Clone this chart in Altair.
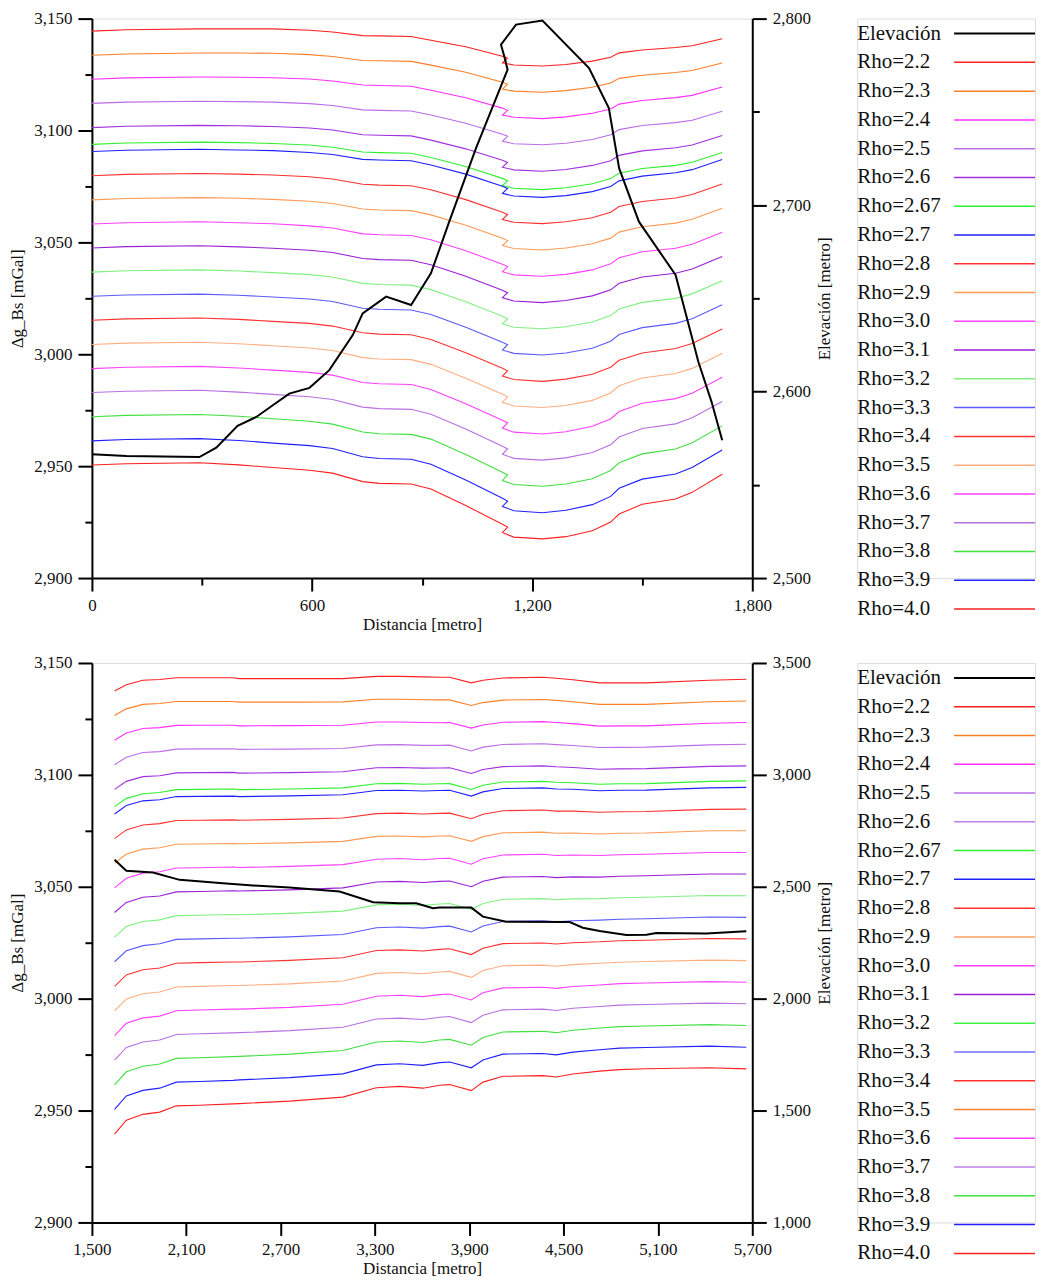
import altair as alt
import pandas as pd

FONT = "Liberation Serif"

NAMES = ["Rho=2.2", "Rho=2.3", "Rho=2.4", "Rho=2.5", "Rho=2.6", "Rho=2.67", "Rho=2.7",
         "Rho=2.8", "Rho=2.9", "Rho=3.0", "Rho=3.1", "Rho=3.2", "Rho=3.3", "Rho=3.4",
         "Rho=3.5", "Rho=3.6", "Rho=3.7", "Rho=3.8", "Rho=3.9", "Rho=4.0"]

TOP_COLORS = ["#ff2020", "#ff7f27", "#ff30ff", "#bb6ee6", "#a030e0", "#30f030", "#2020ff",
              "#ff3030", "#ff9a55", "#ff40ff", "#9a1ed6", "#80f080", "#5a5aff", "#ff3030",
              "#ffae80", "#ff40ff", "#b870e0", "#40e040", "#2020ff", "#ff2020"]
BOT_COLORS = ["#ff2020", "#ff7f27", "#ff30ff", "#bb6ee6", "#c080e6", "#30f030", "#2020ff",
              "#ff3030", "#ffa060", "#ff40ff", "#9a1ed6", "#40f040", "#7070ff", "#ff3030",
              "#ff8030", "#ff40ff", "#c080e6", "#40e040", "#2020ff", "#ff2020"]

# ---------------- top profile ----------------
TOP_X = [0, 93, 293, 400, 493, 593, 656, 738, 783, 870, 924, 1019, 1119, 1133, 1119, 1150,
         1228, 1292, 1364, 1414, 1437, 1500, 1591, 1636, 1718]

top_22 = [3144.4, 3145.0, 3145.4, 3145.4, 3145.4, 3144.8, 3144.0, 3142.4, 3142.3, 3142.0, 3140.3, 3137.4, 3133.2, 3132.3, 3130.2, 3129.3, 3128.8, 3129.5, 3131.0, 3132.7, 3134.7, 3136.0, 3137.1, 3137.9, 3141.0]
top_23 = [3133.6, 3134.2, 3134.6, 3134.6, 3134.5, 3133.9, 3133.1, 3131.3, 3131.2, 3130.9, 3129.2, 3126.0, 3121.6, 3120.7, 3118.5, 3117.6, 3117.1, 3117.8, 3119.3, 3121.2, 3123.3, 3124.7, 3125.9, 3126.8, 3130.2]
top_24 = [3122.9, 3123.5, 3123.9, 3123.8, 3123.6, 3123.0, 3122.1, 3120.3, 3120.1, 3119.8, 3118.0, 3114.6, 3110.0, 3109.0, 3106.9, 3105.9, 3105.3, 3106.1, 3107.7, 3109.6, 3111.8, 3113.4, 3114.7, 3115.7, 3119.4]
top_25 = [3112.1, 3112.7, 3113.1, 3112.9, 3112.7, 3112.0, 3111.2, 3109.2, 3109.0, 3108.7, 3106.9, 3103.2, 3098.3, 3097.4, 3095.2, 3094.1, 3093.6, 3094.3, 3096.0, 3098.1, 3100.4, 3102.2, 3103.5, 3104.6, 3108.6]
top_26 = [3101.3, 3101.9, 3102.3, 3102.1, 3101.8, 3101.1, 3100.2, 3098.1, 3097.9, 3097.6, 3095.7, 3091.8, 3086.7, 3085.7, 3083.6, 3082.4, 3081.8, 3082.6, 3084.4, 3086.5, 3088.9, 3090.9, 3092.3, 3093.5, 3097.8]
top_267 = [3093.8, 3094.4, 3094.8, 3094.6, 3094.2, 3093.5, 3092.5, 3090.4, 3090.1, 3089.8, 3087.9, 3083.9, 3078.6, 3077.6, 3075.4, 3074.2, 3073.6, 3074.4, 3076.2, 3078.5, 3080.9, 3083.0, 3084.4, 3085.8, 3090.2]
top_27 = [3090.6, 3091.2, 3091.6, 3091.3, 3091.0, 3090.2, 3089.3, 3087.1, 3086.8, 3086.5, 3084.6, 3080.5, 3075.1, 3074.1, 3071.9, 3070.7, 3070.1, 3070.9, 3072.7, 3075.0, 3077.5, 3079.6, 3081.1, 3082.5, 3087.0]
top_28 = [3079.8, 3080.4, 3080.8, 3080.5, 3080.1, 3079.3, 3078.3, 3076.0, 3075.6, 3075.3, 3073.5, 3069.1, 3063.5, 3062.5, 3060.2, 3059.0, 3058.4, 3059.2, 3061.0, 3063.5, 3066.0, 3068.3, 3069.8, 3071.4, 3076.1]
top_29 = [3069.0, 3069.6, 3070.0, 3069.7, 3069.2, 3068.4, 3067.4, 3064.9, 3064.5, 3064.2, 3062.3, 3057.7, 3051.9, 3050.8, 3048.6, 3047.3, 3046.6, 3047.5, 3049.4, 3051.9, 3054.6, 3057.0, 3058.6, 3060.3, 3065.3]
top_30 = [3058.2, 3058.8, 3059.2, 3058.8, 3058.3, 3057.4, 3056.4, 3053.8, 3053.4, 3053.1, 3051.2, 3046.3, 3040.2, 3039.2, 3036.9, 3035.5, 3034.9, 3035.7, 3037.7, 3040.4, 3043.1, 3045.8, 3047.4, 3049.2, 3054.5]
top_31 = [3047.5, 3048.1, 3048.5, 3048.0, 3047.4, 3046.5, 3045.5, 3042.8, 3042.3, 3042.0, 3040.0, 3034.9, 3028.6, 3027.5, 3025.3, 3023.8, 3023.1, 3024.0, 3026.1, 3028.8, 3031.7, 3034.5, 3036.2, 3038.1, 3043.7]
top_32 = [3036.7, 3037.3, 3037.7, 3037.2, 3036.5, 3035.6, 3034.5, 3031.7, 3031.2, 3030.9, 3028.9, 3023.5, 3017.0, 3015.9, 3013.6, 3012.1, 3011.4, 3012.3, 3014.4, 3017.3, 3020.2, 3023.2, 3025.0, 3027.0, 3032.9]
top_33 = [3025.9, 3026.5, 3026.9, 3026.4, 3025.6, 3024.7, 3023.6, 3020.6, 3020.1, 3019.8, 3017.8, 3012.1, 3005.4, 3004.3, 3001.9, 3000.4, 2999.7, 3000.6, 3002.7, 3005.8, 3008.8, 3011.9, 3013.8, 3015.9, 3022.1]
top_34 = [3015.2, 3015.8, 3016.2, 3015.6, 3014.7, 3013.8, 3012.6, 3009.6, 3009.0, 3008.7, 3006.6, 3000.7, 2993.8, 2992.6, 2990.3, 2988.7, 2987.9, 2988.9, 2991.1, 2994.2, 2997.3, 3000.6, 3002.6, 3004.8, 3011.3]
top_35 = [3004.4, 3005.0, 3005.4, 3004.7, 3003.8, 3002.8, 3001.7, 2998.5, 2997.9, 2997.6, 2995.5, 2989.3, 2982.1, 2981.0, 2978.6, 2976.9, 2976.2, 2977.1, 2979.4, 2982.7, 2985.9, 2989.4, 2991.4, 2993.7, 3000.5]
top_36 = [2993.6, 2994.2, 2994.6, 2993.9, 2992.9, 2991.9, 2990.7, 2987.4, 2986.8, 2986.5, 2984.3, 2977.9, 2970.5, 2969.3, 2967.0, 2965.2, 2964.4, 2965.4, 2967.8, 2971.1, 2974.4, 2978.1, 2980.2, 2982.6, 2989.7]
top_37 = [2982.9, 2983.5, 2983.9, 2983.1, 2982.1, 2981.0, 2979.8, 2976.4, 2975.7, 2975.4, 2973.2, 2966.6, 2958.9, 2957.7, 2955.3, 2953.5, 2952.7, 2953.7, 2956.1, 2959.6, 2963.0, 2966.8, 2968.9, 2971.6, 2978.9]
top_38 = [2972.1, 2972.7, 2973.1, 2972.3, 2971.2, 2970.1, 2968.8, 2965.3, 2964.5, 2964.2, 2962.1, 2955.2, 2947.3, 2946.1, 2943.6, 2941.8, 2941.0, 2942.0, 2944.4, 2948.1, 2951.5, 2955.5, 2957.7, 2960.5, 2968.0]
top_39 = [2961.3, 2961.9, 2962.3, 2961.5, 2960.3, 2959.2, 2957.9, 2954.2, 2953.4, 2953.1, 2950.9, 2943.8, 2935.7, 2934.4, 2932.0, 2930.1, 2929.2, 2930.3, 2932.8, 2936.5, 2940.1, 2944.2, 2946.5, 2949.4, 2957.2]
top_40 = [2950.5, 2951.1, 2951.5, 2950.6, 2949.4, 2948.2, 2946.9, 2943.1, 2942.3, 2942.0, 2939.8, 2932.4, 2924.0, 2922.8, 2920.3, 2918.3, 2917.5, 2918.5, 2921.1, 2925.0, 2928.6, 2933.0, 2935.3, 2938.3, 2946.4]

TOP_ELEV_X = [0, 94, 293, 339, 397, 448, 493, 538, 593, 647, 711, 738, 802, 870, 924, 974, 1047,
              1133, 1124, 1115, 1156, 1228, 1355, 1409, 1437, 1491, 1591, 1653, 1689, 1718]
TOP_ELEV = [2566.4, 2565.5, 2564.9, 2569.9, 2581.6, 2586.4, 2592.7, 2598.9, 2602.0, 2611.5,
            2630.3, 2641.9, 2650.9, 2646.4, 2663.4, 2691.1, 2730.5, 2772.6, 2779.8, 2786.0,
            2796.8, 2799.0, 2773.5, 2752.0, 2719.8, 2691.1, 2662.5, 2616.0, 2594.5, 2573.9]

# ---------------- bottom profile ----------------
BOT_X = [1644, 1719, 1824, 1931, 2037, 2185, 2397, 2439, 2757, 3096, 3309, 3457, 3605, 3711,
         3775, 3913, 3987, 4114, 4368, 4453, 4559, 4729, 4856, 5026, 5428, 5662]

bot_22 = [3137.5, 3140.3, 3142.3, 3142.6, 3143.4, 3143.4, 3143.4, 3143.0, 3143.0, 3143.0, 3144.0, 3144.0, 3143.8, 3143.6, 3143.6, 3141.1, 3142.3, 3143.3, 3143.6, 3143.2, 3142.5, 3141.1, 3141.1, 3141.1, 3142.3, 3142.7]
bot_23 = [3126.5, 3129.5, 3131.5, 3131.9, 3132.8, 3132.8, 3132.8, 3132.5, 3132.5, 3132.6, 3133.8, 3133.8, 3133.6, 3133.5, 3133.5, 3131.0, 3132.3, 3133.4, 3133.7, 3133.3, 3132.7, 3131.5, 3131.5, 3131.5, 3132.7, 3133.0]
bot_24 = [3115.5, 3118.7, 3120.7, 3121.1, 3122.1, 3122.2, 3122.2, 3121.9, 3122.0, 3122.2, 3123.6, 3123.6, 3123.4, 3123.3, 3123.4, 3120.9, 3122.3, 3123.5, 3123.8, 3123.4, 3122.9, 3121.8, 3121.9, 3121.9, 3123.1, 3123.4]
bot_25 = [3104.5, 3107.9, 3110.0, 3110.4, 3111.5, 3111.6, 3111.7, 3111.4, 3111.5, 3111.8, 3113.4, 3113.5, 3113.2, 3113.2, 3113.3, 3110.7, 3112.4, 3113.6, 3113.9, 3113.5, 3113.1, 3112.2, 3112.3, 3112.4, 3113.4, 3113.7]
bot_26 = [3093.5, 3097.1, 3099.2, 3099.6, 3100.9, 3101.0, 3101.1, 3100.8, 3101.0, 3101.4, 3103.2, 3103.3, 3103.0, 3103.1, 3103.2, 3100.6, 3102.4, 3103.7, 3104.0, 3103.6, 3103.3, 3102.5, 3102.7, 3102.8, 3103.8, 3104.0]
bot_267 = [3085.8, 3089.5, 3091.6, 3092.1, 3093.4, 3093.5, 3093.7, 3093.4, 3093.7, 3094.2, 3096.0, 3096.2, 3095.8, 3096.0, 3096.1, 3093.5, 3095.4, 3096.8, 3097.1, 3096.7, 3096.5, 3095.8, 3096.0, 3096.1, 3097.1, 3097.3]
bot_27 = [3082.5, 3086.3, 3088.4, 3088.9, 3090.3, 3090.4, 3090.5, 3090.3, 3090.6, 3091.1, 3093.0, 3093.1, 3092.8, 3093.0, 3093.1, 3090.5, 3092.4, 3093.9, 3094.2, 3093.7, 3093.6, 3092.9, 3093.1, 3093.2, 3094.2, 3094.4]
bot_28 = [3071.5, 3075.4, 3077.6, 3078.2, 3079.6, 3079.7, 3079.9, 3079.7, 3080.1, 3080.7, 3082.7, 3082.9, 3082.5, 3082.8, 3082.9, 3080.4, 3082.4, 3084.0, 3084.3, 3083.8, 3083.8, 3083.3, 3083.5, 3083.6, 3084.6, 3084.7]
bot_29 = [3060.5, 3064.6, 3066.8, 3067.4, 3069.0, 3069.1, 3069.3, 3069.2, 3069.6, 3070.3, 3072.5, 3072.7, 3072.3, 3072.7, 3072.8, 3070.3, 3072.4, 3074.1, 3074.4, 3073.9, 3074.0, 3073.6, 3073.9, 3074.0, 3075.0, 3075.0]
bot_30 = [3049.5, 3053.8, 3056.1, 3056.7, 3058.4, 3058.5, 3058.8, 3058.6, 3059.1, 3059.9, 3062.3, 3062.6, 3062.1, 3062.6, 3062.7, 3060.1, 3062.5, 3064.2, 3064.5, 3064.0, 3064.2, 3064.0, 3064.3, 3064.5, 3065.3, 3065.3]
bot_31 = [3038.5, 3043.0, 3045.3, 3045.9, 3047.7, 3047.9, 3048.2, 3048.1, 3048.6, 3049.5, 3052.1, 3052.4, 3051.9, 3052.4, 3052.6, 3050.0, 3052.5, 3054.3, 3054.6, 3054.1, 3054.4, 3054.3, 3054.7, 3054.9, 3055.7, 3055.7]
bot_32 = [3027.5, 3032.2, 3034.5, 3035.2, 3037.1, 3037.3, 3037.6, 3037.5, 3038.1, 3039.1, 3041.9, 3042.2, 3041.7, 3042.3, 3042.5, 3039.9, 3042.5, 3044.4, 3044.7, 3044.2, 3044.6, 3044.7, 3045.1, 3045.3, 3046.1, 3046.0]
bot_33 = [3016.5, 3021.4, 3023.7, 3024.5, 3026.5, 3026.7, 3027.0, 3027.0, 3027.6, 3028.7, 3031.7, 3032.0, 3031.5, 3032.2, 3032.4, 3029.8, 3032.5, 3034.5, 3034.8, 3034.3, 3034.8, 3035.1, 3035.5, 3035.7, 3036.5, 3036.3]
bot_34 = [3005.5, 3010.6, 3012.9, 3013.7, 3015.8, 3016.1, 3016.4, 3016.4, 3017.1, 3018.3, 3021.5, 3021.8, 3021.3, 3022.0, 3022.3, 3019.7, 3022.5, 3024.6, 3024.9, 3024.4, 3025.0, 3025.4, 3025.9, 3026.1, 3026.9, 3026.7]
bot_35 = [2994.5, 2999.8, 3002.2, 3003.0, 3005.2, 3005.5, 3005.9, 3005.9, 3006.6, 3007.9, 3011.3, 3011.7, 3011.1, 3011.9, 3012.2, 3009.5, 3012.6, 3014.7, 3015.0, 3014.5, 3015.2, 3015.8, 3016.3, 3016.6, 3017.2, 3017.0]
bot_36 = [2983.5, 2989.0, 2991.4, 2992.2, 2994.6, 2994.9, 2995.3, 2995.3, 2996.1, 2997.5, 3001.1, 3001.5, 3000.9, 3001.8, 3002.1, 2999.4, 3002.6, 3004.8, 3005.1, 3004.6, 3005.4, 3006.1, 3006.7, 3007.0, 3007.6, 3007.3]
bot_37 = [2972.5, 2978.2, 2980.6, 2981.5, 2984.0, 2984.3, 2984.7, 2984.8, 2985.7, 2987.2, 2990.9, 2991.3, 2990.7, 2991.7, 2992.0, 2989.3, 2992.6, 2995.0, 2995.3, 2994.7, 2995.7, 2996.5, 2997.1, 2997.4, 2998.0, 2997.7]
bot_38 = [2961.5, 2967.3, 2969.8, 2970.8, 2973.3, 2973.6, 2974.1, 2974.2, 2975.2, 2976.8, 2980.6, 2981.1, 2980.4, 2981.5, 2981.8, 2979.2, 2982.6, 2985.1, 2985.4, 2984.8, 2985.9, 2986.9, 2987.5, 2987.8, 2988.4, 2988.0]
bot_39 = [2950.5, 2956.5, 2959.0, 2960.0, 2962.7, 2963.0, 2963.5, 2963.7, 2964.7, 2966.4, 2970.4, 2970.9, 2970.2, 2971.4, 2971.7, 2969.1, 2972.6, 2975.2, 2975.5, 2974.9, 2976.1, 2977.2, 2977.9, 2978.2, 2978.8, 2978.3]
bot_40 = [2939.5, 2945.7, 2948.3, 2949.3, 2952.1, 2952.4, 2953.0, 2953.1, 2954.2, 2956.0, 2960.2, 2960.8, 2960.0, 2961.3, 2961.6, 2958.9, 2962.7, 2965.3, 2965.6, 2965.0, 2966.3, 2967.6, 2968.3, 2968.7, 2969.1, 2968.6]

BOT_ELEV_X = [1644, 1719, 1888, 2058, 2333, 2524, 2757, 3075, 3289, 3457, 3563, 3669, 3711,
              3913, 3987, 4135, 4539, 4622, 4729, 4899, 5028, 5089, 5407, 5662]
BOT_ELEV = [2620.5, 2571.2, 2563.6, 2530.9, 2515.7, 2505.4, 2496.4, 2478.5, 2430.6, 2426.1,
            2426.1, 2403.7, 2406.8, 2406.8, 2366.5, 2344.1, 2342.0, 2317.2, 2302.4, 2284.5,
            2286.0, 2293.0, 2291.7, 2301.0]

TOP_SERIES = [top_22, top_23, top_24, top_25, top_26, top_267, top_27, top_28, top_29, top_30,
              top_31, top_32, top_33, top_34, top_35, top_36, top_37, top_38, top_39, top_40]
BOT_SERIES = [bot_22, bot_23, bot_24, bot_25, bot_26, bot_267, bot_27, bot_28, bot_29, bot_30,
              bot_31, bot_32, bot_33, bot_34, bot_35, bot_36, bot_37, bot_38, bot_39, bot_40]


def long_df(xs, series):
    rows = []
    for name, vals in zip(NAMES, series):
        for i, (x, v) in enumerate(zip(xs, vals)):
            rows.append({"x": x, "v": v, "series": name, "i": i})
    return pd.DataFrame(rows)


def elev_df(xs, ys):
    return pd.DataFrame({"x": xs, "e": ys, "i": list(range(len(xs)))})


def axis(orient, values, major_test, major_len, minor_len, title, title_pad, label_pad, **kw):
    return alt.Axis(
        orient=orient, values=values, title=title,
        labelExpr=f"({major_test}) ? format(datum.value, ',') : ''",
        tickSize={"condition": {"test": major_test, "value": major_len}, "value": minor_len},
        tickColor="black", tickWidth=2, domainColor="black", domainWidth=2,
        labelFont=FONT, labelFontSize=17, labelColor="#111111", labelPadding=label_pad,
        labelOverlap=False, labelFlush=False, labelBound=False,
        titleFont=FONT, titleFontSize=17, titleFontWeight="normal", titleColor="#111111",
        titlePadding=title_pad, grid=False, **kw)


def panel(xs, series, colors, x_dom, x_vals, x_test, r_dom, r_vals, r_test, ex, ey):
    xa = axis("bottom", x_vals, x_test, 13, 7, "Distancia [metro]", 3, 6)
    x = alt.X("x:Q", scale=alt.Scale(domain=x_dom, nice=False, zero=False), axis=xa)
    lines = alt.Chart(long_df(xs, series)).mark_line(strokeWidth=1.1).encode(
        x=x,
        y=alt.Y("v:Q", scale=alt.Scale(domain=[2900, 3150], nice=False, zero=False),
                axis=axis("left", list(range(2900, 3151, 25)), "datum.value % 50 === 0", 14, 7,
                          "Δg_Bs [mGal]", 7, 6)),
        color=alt.Color("series:N", scale=alt.Scale(domain=NAMES, range=colors), legend=None),
        order=alt.Order("i:Q"),
    )
    elev = alt.Chart(elev_df(ex, ey)).mark_line(strokeWidth=2, color="black").encode(
        x=x,
        y=alt.Y("e:Q", scale=alt.Scale(domain=r_dom, nice=False, zero=False),
                axis=axis("right", r_vals, r_test, 14, 7, "Elevación [metro]", 6, 6,
                          titleAngle=270, titleBaseline="top")),
        order=alt.Order("i:Q"),
    )
    return alt.layer(lines, elev).resolve_scale(y="independent").properties(width=661, height=560)


def legend(colors):
    df = pd.DataFrame({
        "name": ["Elevación"] + NAMES,
        "row": list(range(21)),
        "col": ["#000000"] + colors,
        "w": [2.0] + [1.5] * 20,
    })
    y = alt.Y("row:Q", scale=alt.Scale(domain=[-0.5208, 18.924], reverse=True, nice=False, zero=False),
              axis=None)
    txt = alt.Chart(df).mark_text(align="left", baseline="middle", font=FONT, fontSize=21,
                                  color="#111111").encode(x=alt.value(0), y=y, text="name:N")
    rules = alt.Chart(df).mark_rule().encode(
        x=alt.value(97), x2=alt.value(178), y=y,
        color=alt.Color("col:N", scale=None),
        strokeWidth=alt.StrokeWidth("w:Q", scale=None))
    return alt.layer(txt, rules).properties(width=178, height=560)


top = panel(TOP_X, TOP_SERIES, TOP_COLORS, [0, 1800], list(range(0, 1801, 300)), "datum.value % 600 === 0",
            [2500, 2800], list(range(2500, 2801, 50)), "datum.value % 100 === 0", TOP_ELEV_X, TOP_ELEV)
bot = panel(BOT_X, BOT_SERIES, BOT_COLORS, [1500, 5700], list(range(1500, 5701, 600)), "true",
            [1000, 3500], list(range(1000, 3501, 500)), "true", BOT_ELEV_X, BOT_ELEV)

chart = alt.concat(top, legend(TOP_COLORS), bot, legend(BOT_COLORS), columns=2,
                   spacing={"row": 85, "column": 105}, bounds="flush").properties(
    padding={"left": 0, "top": 0, "right": 0, "bottom": 0}
).configure_view(stroke=None).configure(font=FONT)

chart.save("out.html", embed_options={"renderer": "svg", "actions": False})
